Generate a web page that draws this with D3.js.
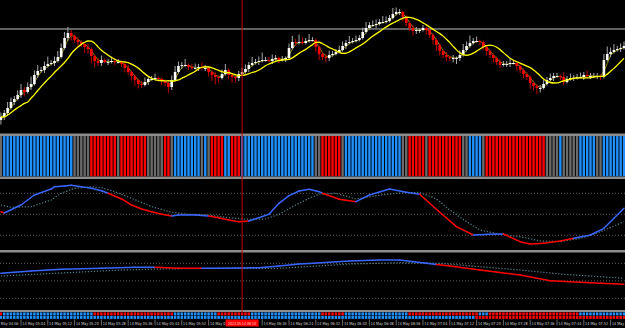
<!DOCTYPE html>
<html>
<head>
<meta charset="utf-8">
<script src="https://cdnjs.cloudflare.com/ajax/libs/d3/7.8.5/d3.min.js"></script>
<style>
  html, body { margin: 0; padding: 0; background: #000; overflow: hidden; }
</style>
</head>
<body>
<div id="chart"></div>
<script>
// 1-minute bars, 14 May 04:58 .. 08:04
const barStart = new Date(2023, 4, 14, 4, 58);
const crossTime = new Date(2023, 4, 14, 6, 10);

// close prices (points)
const closes = [13,17,22,28,31,35,40,38,43,46, 55,59,60,64,66,67,69,73,82,92,
  97,94,90,88,86,83,81,74,69,67, 70,68,68,69,68,68,66,62,58,54,
  50,46,45,48,51,51,52,51,49,47, 43,50,58,64,65,65,63,62,62,63,
  62,62,58,55,53,52,56,60,55,53, 52,56,58,61,65,67,68,69,70,70,
  69,71,72,70,71,72,82,88,87,88, 87,89,90,90,83,76,73,72,75,76,
  78,80,84,87,88,89,90,92,98,102, 105,105,106,108,108,109,112,116,118,118,
  113,107,102,99,100,100,102,100,95,90, 85,79,75,73,72,72,72,75,80,84,
  87,89,89,88,83,79,75,72,68,65, 66,66,67,67,64,60,56,53,47,44,
  42,42,46,50,52,54,54,53,48,51, 52,52,53,53,55,54,54,54,54,53,
  70,76,78,80,81,82,84];
const firstOpen = 10;
const wickUp = [3,2,4,3,2,3,4,2,3,5, 3,4,2,3,5,2,3,4,3,4, 4,2,1,2,1,1,2,1,1,2,
  3,1,2,3,1,2,1,1,2,1, 1,1,2,3,2,2,3,1,1,1, 1,3,4,3,2,4,1,2,3,2,
  3,2,1,1,2,1,3,4,1,1, 1,2,3,3,2,4,2,3,5,2, 2,3,2,1,2,1,3,4,2,5,
  3,2,4,2,1,1,1,2,3,2, 2,3,3,2,4,2,3,2,3,4, 2,3,3,2,4,3,2,4,3,2,
  1,1,1,2,2,1,2,1,1,1, 1,1,1,2,1,2,1,3,4,3, 5,2,3,1,1,1,1,1,1,2,
  2,2,3,2,1,1,1,1,1,1, 1,2,3,2,3,2,2,1,3,2, 3,2,2,3,2,3,2,2,2,1,
  4,5,3,4,2,3,3];
const wickDn = [3,2,2,1,2,1,2,3,1,2, 1,2,1,2,1,1,2,1,1,1, 2,3,2,3,2,4,3,5,4,2,
  2,1,2,1,2,1,2,3,2,3, 4,3,2,1,2,1,1,2,3,2, 4,2,1,1,2,1,2,1,1,2,
  1,2,3,4,5,3,1,1,3,4, 3,2,1,1,2,1,1,2,1,1, 1,2,1,2,1,2,1,1,2,1,
  1,1,1,1,3,4,2,3,2,1, 1,1,1,2,1,1,1,1,1,1, 1,1,2,1,1,1,1,1,1,2,
  3,2,2,3,2,2,1,3,2,3, 4,3,2,3,2,3,4,2,1,1, 1,1,1,2,2,3,2,3,2,2,
  1,2,2,1,3,2,3,2,4,3, 4,3,1,1,1,2,1,2,2,1, 1,2,1,1,2,1,2,1,2,2,
  1,1,2,1,1,2,1];
const levelPrice = 101;

// trend strip (bar ranges)
const stripSegs = [[0,0,"g"],[1,21,"b"],[22,26,"g"],[27,34,"r"],[35,35,"g"],[36,43,"r"],
  [44,48,"g"],[49,50,"r"],[51,51,"g"],[52,59,"b"],[60,60,"g"],[61,61,"b"],[62,62,"g"],
  [63,66,"r"],[67,68,"b"],[69,71,"r"],[72,93,"b"],[94,95,"g"],[96,101,"r"],[102,102,"g"],
  [103,119,"b"],[120,121,"g"],[122,126,"r"],[127,127,"g"],[128,137,"r"],[138,139,"g"],
  [140,143,"b"],[144,144,"g"],[145,162,"r"],[163,166,"g"],[167,167,"b"],[168,172,"g"],
  [173,177,"b"],[178,179,"g"],[180,186,"b"]];
const row1Segs = [[0,0,"r"],[1,27,"b"],[28,51,"r"],[52,64,"b"],[65,74,"r"],[75,95,"b"],
  [96,102,"r"],[103,121,"b"],[122,142,"r"],[143,145,"b"],[146,172,"r"],[173,186,"b"]];
const row2Segs = [[0,141,"b"],[142,186,"r"]];

// oscillator 1 (0..100)
const osc1Bars = [0,1,6,10,15,16,19,21,24,27,30,32,36,39,42,45,48,51,53,58,62,65,68,71,74,77,80,83,86,89,
  92,95,96,101,106,110,116,121,125,131,136,141,146,150,155,158,162,167,171,176,180,183,186];
const osc1Main = [53.7,51.9,63.3,77.6,86.1,89.4,90.4,91.4,89.4,87.1,83.7,80,71.9,63.3,57.6,53.7,50,47.6,49,49,
  47.6,45.1,41.9,39.4,40.4,45.1,50,65.7,76.6,83.3, 85.7,82.3,80,71.4,68,77.6,86.1,81.4,78.6,52.9,
  32.3,20.4,21.4,21.9,10.9,7.6,8.6,11.9,15.7,20.4, 30,44.3,58.6];
const osc1SigBars = [0,3,9,15,18,22,27,30,34,39,45,51,56,62,68,74,79,83,88,92,95,100,106,112,118,125,
  130,134,139,143,149,155,161,167,173,179,186];
const osc1Sig = [63.3,60,60.9,70.4,80,87.1,89.4,88,82.3,72.9,60.9,52.9,50,49,45.1,42.9,43.3,50,63.3,72.9,
  78.6,80,71.9,76.6,80,81.4, 71.9,56.1,39.4,27.6,21.4,18,11.9,10.9,15.7,25.1,39.4];
const osc1Trend = [[0,1,"dn"],[1,32,"up"],[32,51,"dn"],[51,62,"up"],[62,74,"dn"],[74,96,"up"],
  [96,106,"dn"],[106,125,"up"],[125,141,"dn"],[141,150,"up"],[150,173,"dn"],[173,186,"up"]];

// oscillator 2 (0..100)
const osc2Bars = [0,9,18,30,40,46,53,60,65,77,83,89,92,104,113,119,127,130,134,143,155,164,173,179,186];
const osc2Main = [62.9,66.9,69.8,71.5,73.2,73.2,71.5,71.5,71.5,72.6,75.5,78.9,79.8,84,85.8,85.8,80.1,78,75.5,68.6,
  60,50.3,47.5,45.8,44.1];
const osc2SigBars = [0,12,24,36,48,65,83,92,104,119,131,143,155,167,179,186];
const osc2Sig = [58.3,61.7,65.2,68.6,70.3,71.5,71.5,74.6,78.9,81.1,80.1,74.3,68.6,61.7,57.1,54.4];
const osc2Trend = [[0,46,"up"],[46,60,"dn"],[60,130,"up"],[130,186,"dn"]];
const oscLevels = [20, 50, 80];

const W = 625, H = 328;
const barTime = i => d3.timeMinute.offset(barStart, i);

const svg = d3.select("#chart").append("svg")
  .attr("width", W).attr("height", H)
  .style("display", "block");
svg.append("rect").attr("width", W).attr("height", H).attr("fill", "#000");

const x = d3.scaleTime()
  .domain([barStart, barTime(closes.length - 1)])
  .range([0.9, 0.9 + 3.35 * (closes.length - 1)]);

// panel frames
const panels = {
  main: [0, 133.5],
  strip: [136, 176.5],
  osc1: [179, 250],
  osc2: [252.5, 310]
};
const defs = svg.append("defs");
Object.entries(panels).forEach(([k, p]) => {
  defs.append("clipPath").attr("id", "clip-" + k)
    .append("rect").attr("x", 0).attr("y", p[0]).attr("width", W).attr("height", p[1] - p[0]);
});
[[133.5, 2.5], [176.5, 2.5], [250, 2.5], [310, 2]].forEach(s => {
  svg.append("rect").attr("x", 0).attr("y", s[0]).attr("width", W).attr("height", s[1]).attr("fill", "#8c8c8c");
});

// ---------- main price panel ----------
const y = d3.scaleLinear().domain([0, 130]).range([130, 0]);
const gMain = svg.append("g").attr("clip-path", "url(#clip-main)");

gMain.append("line")
  .attr("x1", 0).attr("x2", W)
  .attr("y1", y(levelPrice)).attr("y2", y(levelPrice))
  .attr("stroke", "#808080").attr("stroke-width", 1.6);

const bars = closes.map((c, i) => {
  const o = i === 0 ? firstOpen : closes[i - 1];
  return {
    t: barTime(i), o: o, c: c,
    h: Math.max(o, c) + wickUp[i] * 1.5,
    l: Math.min(o, c) - wickDn[i] * 1.5
  };
});

function sma(arr, n, shift) {
  return arr.map((v, i) => {
    const j = Math.max(0, i - shift);
    const s = arr.slice(Math.max(0, j - n + 1), j + 1);
    return d3.mean(s);
  });
}
const maSlow = sma(closes, 8, 1);
const maFast = sma(closes, 3, 0);

gMain.append("path")
  .datum(maFast)
  .attr("fill", "none")
  .attr("stroke", "#8a8a00")
  .attr("stroke-width", 1)
  .attr("d", d3.line().x((d, i) => x(barTime(i))).y(d => y(d)));

const candle = gMain.append("g").selectAll("g").data(bars).join("g");
candle.append("line")
  .attr("x1", d => x(d.t)).attr("x2", d => x(d.t))
  .attr("y1", d => y(d.h)).attr("y2", d => y(d.l))
  .attr("stroke", d => d.c >= d.o ? "#a8a8a8" : "#c00000")
  .attr("stroke-width", 1);
candle.append("rect")
  .attr("x", d => x(d.t) - 1.3)
  .attr("width", 2.6)
  .attr("y", d => y(Math.max(d.o, d.c)))
  .attr("height", d => Math.max(1, Math.abs(y(d.o) - y(d.c))))
  .attr("fill", d => d.c >= d.o ? "#ffffff" : "#ff0000");

gMain.append("path")
  .datum(maSlow)
  .attr("fill", "none")
  .attr("stroke", "#ffff00")
  .attr("stroke-width", 1.3)
  .attr("d", d3.line().x((d, i) => x(barTime(i))).y(d => y(d)).curve(d3.curveMonotoneX));

// ---------- trend strip ----------
const stripColor = { b: "#1e90ff", r: "#ff0000", g: "#6a6a6a" };
function expand(segs) {
  const out = [];
  segs.forEach(s => { for (let i = s[0]; i <= s[1]; i++) out.push({ i: i, s: s[2] }); });
  return out;
}
svg.append("g").attr("clip-path", "url(#clip-strip)")
  .selectAll("rect").data(expand(stripSegs)).join("rect")
  .attr("x", d => x(barTime(d.i)) - 1.2)
  .attr("width", 2.4)
  .attr("y", panels.strip[0])
  .attr("height", panels.strip[1] - panels.strip[0])
  .attr("fill", d => stripColor[d.s]);

// ---------- oscillators ----------
function drawOsc(key, bars1, main, sigBars, sig, trend) {
  const top = key === "osc1" ? 179.3 : 251.7;
  const bot = key === "osc1" ? 249.3 : 310;
  const yy = d3.scaleLinear().domain([0, 100]).range([bot, top]);
  const g = svg.append("g").attr("clip-path", "url(#clip-" + key + ")");
  g.selectAll("line.lvl").data(oscLevels).join("line")
    .attr("class", "lvl")
    .attr("x1", 0).attr("x2", W)
    .attr("y1", d => yy(d)).attr("y2", d => yy(d))
    .attr("stroke", "#5a5a5a").attr("stroke-width", 1)
    .attr("stroke-dasharray", "1,2");
  const line = d3.line().x(d => x(barTime(d[0]))).y(d => yy(d[1]));
  g.append("path")
    .datum(sigBars.map((b, i) => [b, sig[i]]))
    .attr("fill", "none")
    .attr("stroke", "#4f7d84")
    .attr("stroke-width", 1.2)
    .attr("stroke-dasharray", "1.3,1.7")
    .attr("d", line);
  const pts = bars1.map((b, i) => [b, main[i]]);
  g.selectAll("path.main").data(d3.pairs(pts)).join("path")
    .attr("class", "main")
    .attr("fill", "none")
    .attr("stroke-width", 1.5)
    .attr("stroke-linecap", "round")
    .attr("stroke", d => {
      const m = (d[0][0] + d[1][0]) / 2;
      const seg = trend.find(s => m >= s[0] && m <= s[1]);
      return seg && seg[2] === "dn" ? "#ff0000" : "#3a66ff";
    })
    .attr("d", d => line(d));
}
drawOsc("osc1", osc1Bars, osc1Main, osc1SigBars, osc1Sig, osc1Trend);
drawOsc("osc2", osc2Bars, osc2Main, osc2SigBars, osc2Sig, osc2Trend);

// ---------- bottom signal rows ----------
const rowColor = { b: "#1e90ff", r: "#ff0000" };
[[row1Segs, 312.4], [row2Segs, 315.9]].forEach(([segs, yTop]) => {
  svg.append("g").selectAll("rect").data(expand(segs)).join("rect")
    .attr("x", d => x(barTime(d.i)) - 1.25)
    .attr("width", 2.5)
    .attr("y", yTop)
    .attr("height", 3)
    .attr("fill", d => rowColor[d.s]);
});

// crosshair
const cx = x(crossTime);
svg.append("line")
  .attr("x1", cx).attr("x2", cx)
  .attr("y1", 0).attr("y2", 312)
  .attr("stroke", "#c80000").attr("stroke-width", 1);

// ---------- time axis ----------
const fmt = d3.timeFormat("%-d %b %H:%M");
const boxL = cx - 16.5, boxR = cx + 16.5;
defs.append("clipPath").attr("id", "clip-axis")
  .append("rect").attr("x", 0).attr("y", 318).attr("width", boxL).attr("height", 10);
const ticks = d3.timeMinute.range(new Date(2023, 4, 14, 4, 56), new Date(2023, 4, 14, 8, 5), 8)
  .filter(t => !(x(t) > boxL && x(t) < boxR));
const gAxis = svg.append("g");
ticks.forEach(t => {
  const tx = x(t);
  const g = gAxis.append("g");
  if (tx < boxL) g.attr("clip-path", "url(#clip-axis)");
  g.append("line")
    .attr("x1", tx).attr("x2", tx).attr("y1", 319.5).attr("y2", 325.5)
    .attr("stroke", "#b0b0b0").attr("stroke-width", 0.6);
  g.append("text")
    .attr("x", tx + 1.3).attr("y", 325.3)
    .attr("font-family", "DejaVu Sans Condensed, DejaVu Sans, sans-serif")
    .attr("font-size", 4.2)
    .attr("textLength", 23)
    .attr("lengthAdjust", "spacingAndGlyphs")
    .attr("fill", "#d0d0d0")
    .text(fmt(t));
});
gAxis.append("rect")
  .attr("x", boxL).attr("y", 319.5).attr("width", boxR - boxL).attr("height", 7)
  .attr("fill", "#ff0000");
gAxis.append("text")
  .attr("x", cx).attr("y", 325.2)
  .attr("text-anchor", "middle")
  .attr("font-family", "DejaVu Sans Condensed, DejaVu Sans, sans-serif")
  .attr("font-size", 4.2)
  .attr("textLength", 28)
  .attr("lengthAdjust", "spacingAndGlyphs")
  .attr("fill", "#ffd8d8")
  .text("2023.05.14 06:10");
</script>
</body>
</html>
